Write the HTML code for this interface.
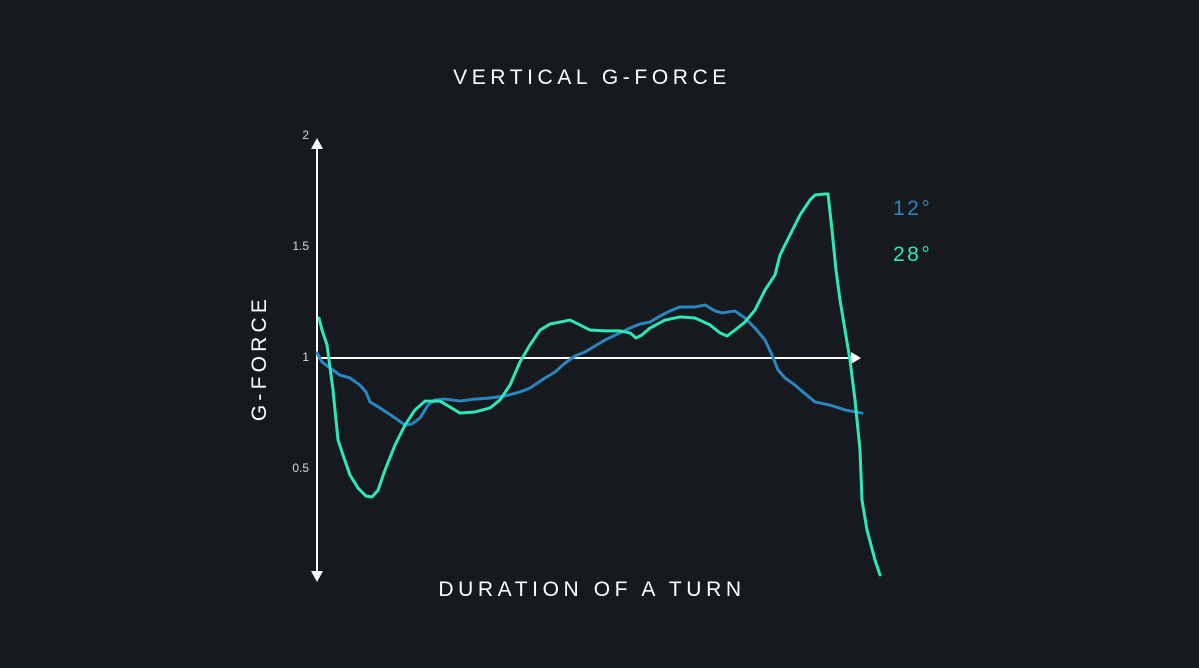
<!DOCTYPE html>
<html><head><meta charset="utf-8"><style>
html,body{margin:0;padding:0;background:#161a1f;}
svg{display:block;}
text{font-family:"Liberation Sans",sans-serif;}
</style></head><body>
<svg id="chart" width="1199" height="668" viewBox="0 0 1199 668">
<rect width="1199" height="668" fill="#161a1f"/>
<text x="592" y="84" fill="#ffffff" font-size="21" text-anchor="middle" letter-spacing="4.6">VERTICAL G-FORCE</text>
<text x="592" y="596" fill="#ffffff" font-size="21" text-anchor="middle" letter-spacing="4.6">DURATION OF A TURN</text>
<text transform="translate(266,358) rotate(-90)" fill="#ffffff" font-size="21" text-anchor="middle" letter-spacing="4.2">G-FORCE</text>
<text x="893" y="215" fill="#2a86c0" font-size="21" letter-spacing="2.5">12°</text>
<text x="893" y="261" fill="#2de8b8" font-size="21" letter-spacing="2.5">28°</text>
<g id="axes"></g>
<g id="series"></g>
</svg>
<script>
const yTicks = [2, 1.5, 1, 0.5];
const yTickLabels = ["2", "1.5", "1", "0.5"];
const t28 = [2,5,10,16,21,26,33,41,49,55,61,68,78,88,98,108,123,133,143,158,173,183,193,203,213,223,233,243,253,263,273,288,303,313,319,325,333,348,363,378,393,403,410,418,428,438,448,458,463,473,483,493,498,508,511,515,519,523,528,533,538,543,545,550,558,563];
const g28 = [1.171,1.117,1.050,0.847,0.622,0.554,0.464,0.405,0.369,0.365,0.396,0.486,0.599,0.689,0.757,0.797,0.797,0.770,0.743,0.748,0.766,0.802,0.869,0.973,1.050,1.117,1.144,1.153,1.162,1.140,1.117,1.113,1.113,1.104,1.081,1.095,1.126,1.162,1.176,1.171,1.140,1.104,1.090,1.117,1.153,1.207,1.297,1.365,1.455,1.545,1.635,1.703,1.725,1.730,1.730,1.568,1.387,1.252,1.117,0.982,0.802,0.577,0.351,0.216,0.081,0.014];
const t12 = [0,5,13,23,33,43,49,53,63,78,88,95,103,111,118,128,143,158,173,188,203,213,228,238,248,258,268,278,288,303,313,323,333,343,353,363,378,388,398,405,418,428,438,448,455,461,468,478,486,498,513,528,545];
const g12 = [1.014,0.973,0.946,0.914,0.901,0.869,0.838,0.793,0.766,0.721,0.689,0.694,0.721,0.779,0.802,0.806,0.797,0.806,0.811,0.820,0.838,0.856,0.901,0.928,0.968,1.000,1.018,1.045,1.072,1.104,1.126,1.144,1.153,1.180,1.203,1.221,1.221,1.230,1.203,1.194,1.203,1.171,1.126,1.072,1.005,0.937,0.901,0.869,0.838,0.793,0.779,0.757,0.743];

const NS = "http://www.w3.org/2000/svg";
const x = t => 317 + t;
const y = g => 578 - g * 222;
const axes = document.getElementById('axes');
const series = document.getElementById('series');

const yAxis = document.createElementNS(NS, 'line');


yAxis.setAttribute('x1', 317); yAxis.setAttribute('x2', 317);
yAxis.setAttribute('y1', 145); yAxis.setAttribute('y2', 575);
yAxis.setAttribute('stroke', '#fff'); yAxis.setAttribute('stroke-width', 2);
axes.appendChild(yAxis);

const arrows = document.createElementNS(NS, 'path');


arrows.setAttribute('d', 'M311,149 L317,138 L323,149 Z M311,571 L317,582 L323,571 Z M851,352 L861,358 L851,364 Z');
arrows.setAttribute('fill', '#fff');
axes.appendChild(arrows);

const xAxis = document.createElementNS(NS, 'line');


xAxis.setAttribute('x1', 317); xAxis.setAttribute('x2', 855);
xAxis.setAttribute('y1', y(1) + 2); xAxis.setAttribute('y2', y(1) + 2);
xAxis.setAttribute('stroke', '#fff'); xAxis.setAttribute('stroke-width', 2);
axes.appendChild(xAxis);

yTicks.forEach((v, i) => {
  const tx = document.createElementNS(NS, 'text');
  
  
  tx.setAttribute('x', 309);
  tx.setAttribute('y', y(v) + 5);
  tx.setAttribute('text-anchor', 'end');
  tx.setAttribute('fill', '#d8d8d8');
  tx.setAttribute('font-size', '12');
  tx.textContent = yTickLabels[i];
  axes.appendChild(tx);
});

function drawLine(ts, gs, color, name) {
  const p = document.createElementNS(NS, 'polyline');
  
  
  p.setAttribute('points', ts.map((t, i) => x(t) + ',' + y(gs[i])).join(' '));
  p.setAttribute('fill', 'none');
  p.setAttribute('stroke', color);
  p.setAttribute('stroke-width', 3);
  p.setAttribute('stroke-linejoin', 'round');
  p.setAttribute('stroke-linecap', 'round');
  series.appendChild(p);
}
drawLine(t12, g12, '#2a86c0', 'line-12-degrees');
drawLine(t28, g28, '#2de8b8', 'line-28-degrees');
</script>
</body></html>
